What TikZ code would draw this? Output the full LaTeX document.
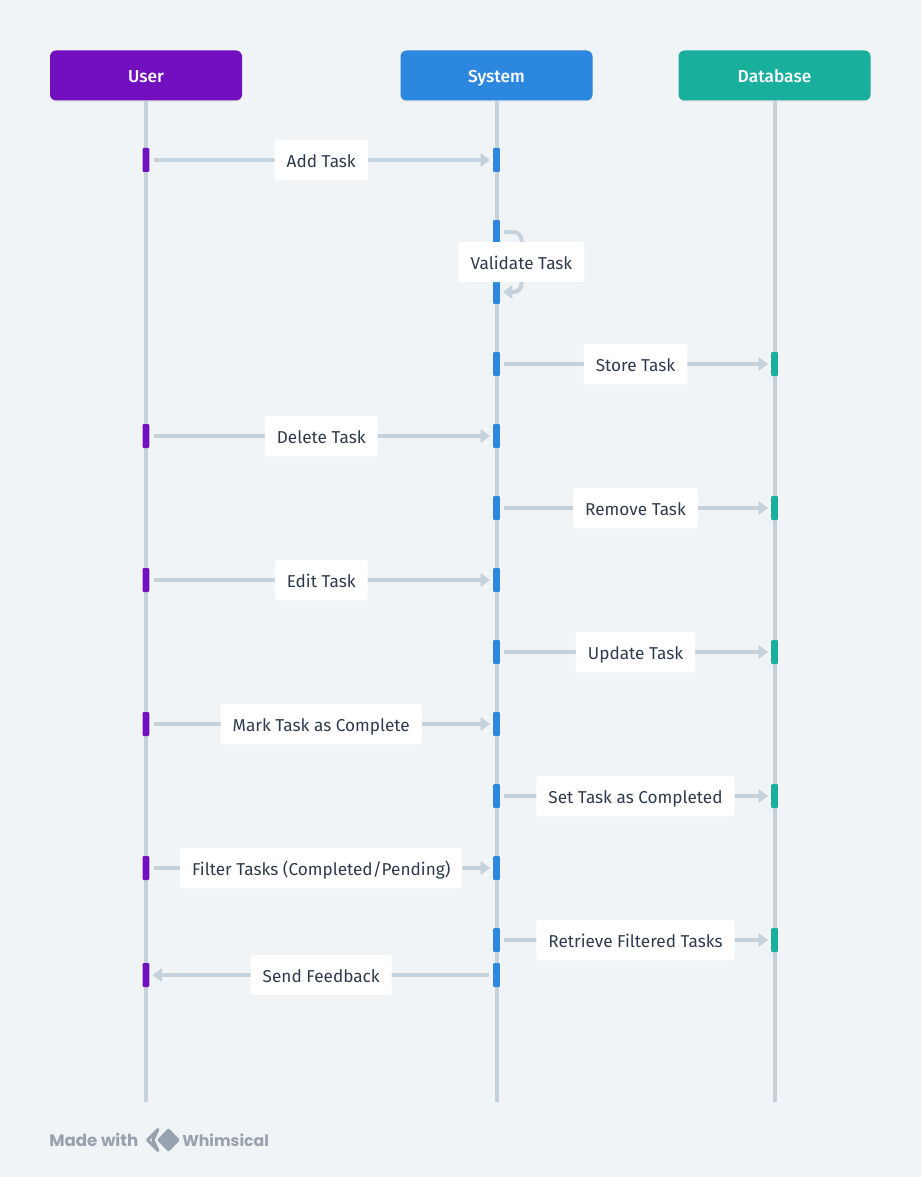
\documentclass[tikz,border=0pt]{standalone}
\usepackage{fontspec}
\setmainfont{Fira Sans}
\newfontfamily\brandfont{Poppins}
\newfontfamily\headfont{Fira Sans Medium}
\usepackage{xcolor}
\usetikzlibrary{arrows.meta,shadows}
\definecolor{pagebg}{HTML}{F0F4F7}
\definecolor{usercol}{HTML}{7210C0}
\definecolor{syscol}{HTML}{2C88DE}
\definecolor{dbcol}{HTML}{19AF9D}
\definecolor{linecol}{HTML}{C5D2DC}
\definecolor{textcol}{HTML}{2E3B4E}
\definecolor{brandcol}{HTML}{98A2AE}
\tikzset{%
	head/.style     = {rectangle, rounded corners=4.5pt, minimum width=144pt, minimum height=37.5pt, text=white, text height=12.5pt, text depth=1.5pt, font=\fontsize{13}{15}\headfont, drop shadow={opacity=0.12, shadow xshift=0pt, shadow yshift=-0.8pt}},
	bar/.style      = {rectangle, rounded corners=0.8pt, minimum width=5pt, minimum height=18pt, inner sep=0pt},
	life/.style     = {draw=linecol, line width=3pt},
	msg/.style      = {draw=linecol, line width=3pt, shorten <=3pt, shorten >=2.2pt, -{Triangle[length=7pt,width=10pt]}},
	lbl/.style      = {fill=white, rectangle, rounded corners=1.5pt, text=textcol, minimum height=30pt, text height=12.5pt, text depth=1.5pt, inner xsep=9pt, inner ysep=0pt, font=\fontsize{12.9}{15}\selectfont},
	brand/.style    = {text=brandcol, inner sep=0pt, font=\fontsize{12.5}{14}\brandfont\bfseries},
	logo/.style     = {draw=brandcol, line width=2.2pt, line join=round},
}
\begin{document}
\begin{tikzpicture}[x=0.75pt,y=-0.75pt,node distance=54pt]
	\fill[pagebg] (0,0) rectangle (921,1177);
	\useasboundingbox (0,0) rectangle (921,1177);
	% headers
	\node [head,fill=usercol] (user) at (146,75.5) {User};
	\node [head,fill=syscol] (sys) at (496.5,75.5) {System};
	\node [head,fill=dbcol] (db) at (774.5,75.5) {Database};
	\coordinate (userend) at (146,1102);
	\coordinate (sysend) at (496.5,1102);
	\coordinate (dbend) at (774.5,1102);
	\draw[life] (user) -- (userend);
	\draw[life] (sys) -- (sysend);
	\draw[life] (db) -- (dbend);
	% system bars
	\node [bar,fill=syscol] (sadd) at (496.5,160) {};
	\node [bar,fill=syscol] (sval) [below of=sadd] {};
	\node [bar,fill=syscol] (svalb) [below of=sval,node distance=45pt] {};
	\node [bar,fill=syscol] (sstore) [below of=svalb] {};
	\node [bar,fill=syscol] (sdel) [below of=sstore] {};
	\node [bar,fill=syscol] (srem) [below of=sdel] {};
	\node [bar,fill=syscol] (sedit) [below of=srem] {};
	\node [bar,fill=syscol] (supd) [below of=sedit] {};
	\node [bar,fill=syscol] (smark) [below of=supd] {};
	\node [bar,fill=syscol] (sset) [below of=smark] {};
	\node [bar,fill=syscol] (sfil) [below of=sset] {};
	\node [bar,fill=syscol] (sret) [below of=sfil] {};
	\node [bar,fill=syscol] (ssend) [below of=sret,node distance=26.25pt] {};
	% user bars
	\node [bar,fill=usercol] (uadd) [left of=sadd,node distance=262.9pt] {};
	\node [bar,fill=usercol] (udel) [left of=sdel,node distance=262.9pt] {};
	\node [bar,fill=usercol] (uedit) [left of=sedit,node distance=262.9pt] {};
	\node [bar,fill=usercol] (umark) [left of=smark,node distance=262.9pt] {};
	\node [bar,fill=usercol] (ufil) [left of=sfil,node distance=262.9pt] {};
	\node [bar,fill=usercol] (usend) [left of=ssend,node distance=262.9pt] {};
	% database bars
	\node [bar,fill=dbcol] (dstore) [right of=sstore,node distance=208.5pt] {};
	\node [bar,fill=dbcol] (drem) [right of=srem,node distance=208.5pt] {};
	\node [bar,fill=dbcol] (dupd) [right of=supd,node distance=208.5pt] {};
	\node [bar,fill=dbcol] (dset) [right of=sset,node distance=208.5pt] {};
	\node [bar,fill=dbcol] (dret) [right of=sret,node distance=208.5pt] {};
	% messages
	\draw[msg] (uadd) -- node[lbl] {Add Task} (sadd);
	\coordinate (loopa) at (521.5,232);
	\coordinate (loopb) at (521.5,292);
	\draw[msg,rounded corners=6pt] (sval.east) -- (loopa) -- node[lbl] {Validate Task} (loopb) -- (svalb.east);
	\draw[msg] (sstore) -- node[lbl] {Store Task} (dstore);
	\draw[msg] (udel) -- node[lbl] {Delete Task} (sdel);
	\draw[msg] (srem) -- node[lbl] {Remove Task} (drem);
	\draw[msg] (uedit) -- node[lbl] {Edit Task} (sedit);
	\draw[msg] (supd) -- node[lbl] {Update Task} (dupd);
	\draw[msg] (umark) -- node[lbl] {Mark Task as Complete} (smark);
	\draw[msg] (sset) -- node[lbl] {Set Task as Completed} (dset);
	\draw[msg] (ufil) -- node[lbl] {Filter Tasks (Completed/Pending)} (sfil);
	\draw[msg] (sret) -- node[lbl] {Retrieve Filtered Tasks} (dret);
	\draw[msg] (ssend) -- node[lbl] {Send Feedback} (usend);
	% footer
	\node [brand,anchor=west] (made) at (49,1140) {Made with};
	\node [brand,anchor=west,font=\fontsize{11.8}{14}\brandfont\bfseries] (whim) at (182,1140) {Whimsical};
	\draw[logo] (158,1129.5) -- (147.5,1140) -- (158,1150.5) -- (153,1140) -- cycle;
	\fill[brandcol,rounded corners=1pt] (168.5,1128) -- (180,1140) -- (168.5,1152) -- (157,1140) -- cycle;
\end{tikzpicture}
\end{document}
